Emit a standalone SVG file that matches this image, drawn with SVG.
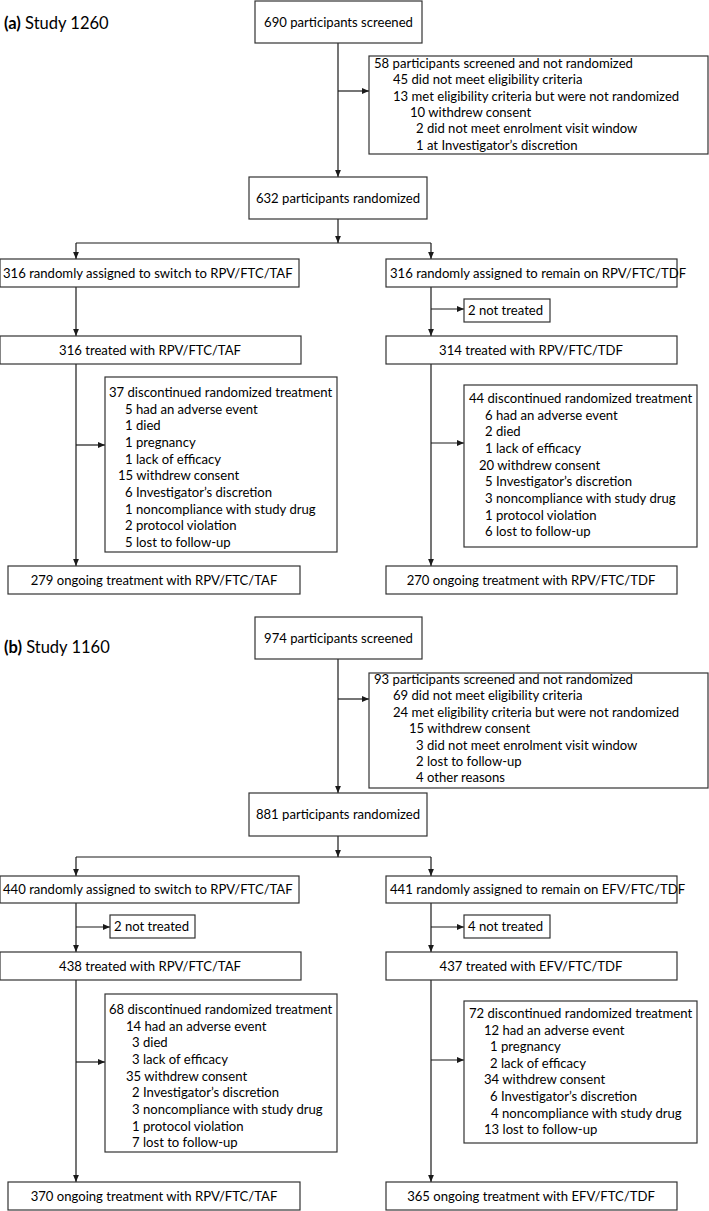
<svg xmlns="http://www.w3.org/2000/svg" width="709" height="1211" viewBox="0 0 709 1211">
<defs>
<marker id="ah" markerUnits="userSpaceOnUse" markerWidth="7" markerHeight="7" viewBox="0 0 7 7" refX="7" refY="3.5" orient="auto">
<path d="M0,0.6 L7,3.5 L0,6.4 Z" fill="#1a1a1a"/>
</marker>
<style>
rect{fill:#fff;stroke:#333;stroke-width:1.2}
text{font-family:Lato,"Open Sans","Liberation Sans",sans-serif;font-size:13.1px;fill:#000}
.c{text-anchor:middle}
.t{font-size:16.5px}
.b{font-weight:bold}
#connectors path{fill:none;stroke:#1a1a1a;stroke-width:1.2}
.a{marker-end:url(#ah)}
</style>
</defs>
<rect x="0" y="0" width="709" height="1211" style="fill:#fff;stroke:none"/>
<g id="connectors">
<path class="a" d="M338,43 V177"/>
<path class="a" d="M338,91 H369"/>
<path class="a" d="M338,219 V243"/>
<path d="M76,243 H431"/>
<path class="a" d="M76,243 V259"/>
<path class="a" d="M431,243 V259"/>
<path class="a" d="M76,287 V336"/>
<path class="a" d="M431,287 V336"/>
<path class="a" d="M431,309 H464"/>
<path class="a" d="M76,364 V566"/>
<path class="a" d="M76,445 H105"/>
<path class="a" d="M431,364 V566"/>
<path class="a" d="M431,443 H464"/>
<path class="a" d="M338,659 V793"/>
<path class="a" d="M338,699 H369"/>
<path class="a" d="M338,836 V857"/>
<path d="M76,857 H431"/>
<path class="a" d="M76,857 V876"/>
<path class="a" d="M431,857 V876"/>
<path class="a" d="M76,903 V952"/>
<path class="a" d="M76,927 H110"/>
<path class="a" d="M431,903 V952"/>
<path class="a" d="M431,927 H464"/>
<path class="a" d="M76,980 V1182"/>
<path class="a" d="M76,1062 H105"/>
<path class="a" d="M431,980 V1182"/>
<path class="a" d="M431,1060 H464"/>
</g>
<g id="title-a"><text x="4" y="29" class="t"><tspan class="b">(a)</tspan> Study 1260</text></g>
<g id="a-screened"><rect x="255" y="1" width="167" height="42"/><text x="338.5" y="27" class="c">690 participants screened</text></g>
<g id="a-notrand"><rect x="369" y="56" width="339" height="98"/>
<text x="374" y="68">58 participants screened and not randomized</text>
<text x="393" y="84.3">45 did not meet eligibility criteria</text>
<text x="393" y="100.6">13 met eligibility criteria but were not randomized</text>
<text x="410" y="117">10 withdrew consent</text>
<text x="416" y="133.2">2 did not meet enrolment visit window</text>
<text x="416" y="149.5">1 at Investigator’s discretion</text>
</g>
<g id="a-rand"><rect x="249" y="177" width="178" height="42"/><text x="338" y="203" class="c">632 participants randomized</text></g>
<g id="a-switch"><rect x="0" y="259" width="299" height="28"/><text x="3" y="278">316 randomly assigned to switch to RPV/FTC/TAF</text></g>
<g id="a-remain"><rect x="386" y="259" width="291" height="28"/><text x="390" y="278">316 randomly assigned to remain on RPV/FTC/TDF</text></g>
<g id="a-nottreated"><rect x="464" y="299" width="86" height="23"/><text x="468" y="315">2 not treated</text></g>
<g id="a-treatedL"><rect x="0" y="336" width="301" height="28"/><text x="150" y="355" class="c">316 treated with RPV/FTC/TAF</text></g>
<g id="a-treatedR"><rect x="386" y="336" width="291" height="28"/><text x="531" y="355" class="c">314 treated with RPV/FTC/TDF</text></g>
<g id="a-discL"><rect x="105" y="377" width="232" height="175"/>
<text x="109" y="397">37 discontinued randomized treatment</text>
<text x="125" y="413.7">5 had an adverse event</text>
<text x="125" y="430.3">1 died</text>
<text x="125" y="447">1 pregnancy</text>
<text x="125" y="463.7">1 lack of efficacy</text>
<text x="118" y="480.3">15 withdrew consent</text>
<text x="125" y="497">6 Investigator’s discretion</text>
<text x="125" y="513.7">1 noncompliance with study drug</text>
<text x="125" y="530.3">2 protocol violation</text>
<text x="125" y="547">5 lost to follow-up</text>
</g>
<g id="a-discR"><rect x="464" y="385" width="233" height="162"/>
<text x="469" y="403">44 discontinued randomized treatment</text>
<text x="485" y="419.7">6 had an adverse event</text>
<text x="485" y="436.3">2 died</text>
<text x="485" y="453">1 lack of efficacy</text>
<text x="479" y="469.7">20 withdrew consent</text>
<text x="485" y="486.3">5 Investigator’s discretion</text>
<text x="485" y="503">3 noncompliance with study drug</text>
<text x="485" y="519.7">1 protocol violation</text>
<text x="485" y="536.3">6 lost to follow-up</text>
</g>
<g id="a-ongoingL"><rect x="8" y="566" width="292" height="28"/><text x="154" y="585" class="c">279 ongoing treatment with RPV/FTC/TAF</text></g>
<g id="a-ongoingR"><rect x="386" y="566" width="291" height="28"/><text x="531" y="585" class="c">270 ongoing treatment with RPV/FTC/TDF</text></g>

<g id="title-b"><text x="4" y="653" class="t"><tspan class="b">(b)</tspan> Study 1160</text></g>
<g id="b-screened"><rect x="255" y="617" width="167" height="42"/><text x="338.5" y="643" class="c">974 participants screened</text></g>
<g id="b-notrand"><rect x="369" y="673" width="339" height="115"/>
<text x="374" y="684">93 participants screened and not randomized</text>
<text x="393" y="700.4">69 did not meet eligibility criteria</text>
<text x="393" y="716.8">24 met eligibility criteria but were not randomized</text>
<text x="409" y="733.2">15 withdrew consent</text>
<text x="416" y="749.6">3 did not meet enrolment visit window</text>
<text x="416" y="766">2 lost to follow-up</text>
<text x="416" y="782.4">4 other reasons</text>
</g>
<g id="b-rand"><rect x="249" y="793" width="178" height="43"/><text x="338" y="819" class="c">881 participants randomized</text></g>
<g id="b-switch"><rect x="0" y="876" width="299" height="27"/><text x="3" y="894">440 randomly assigned to switch to RPV/FTC/TAF</text></g>
<g id="b-remain"><rect x="386" y="876" width="291" height="27"/><text x="390" y="894">441 randomly assigned to remain on EFV/FTC/TDF</text></g>
<g id="b-nottreatedL"><rect x="110" y="915" width="85" height="23"/><text x="114" y="931">2 not treated</text></g>
<g id="b-nottreatedR"><rect x="464" y="915" width="86" height="23"/><text x="468" y="931">4 not treated</text></g>
<g id="b-treatedL"><rect x="0" y="952" width="301" height="28"/><text x="150" y="971" class="c">438 treated with RPV/FTC/TAF</text></g>
<g id="b-treatedR"><rect x="386" y="952" width="291" height="28"/><text x="531" y="971" class="c">437 treated with EFV/FTC/TDF</text></g>
<g id="b-discL"><rect x="105" y="994" width="232" height="158"/>
<text x="109" y="1014">68 discontinued randomized treatment</text>
<text x="126" y="1030.7">14 had an adverse event</text>
<text x="132" y="1047.3">3 died</text>
<text x="132" y="1064">3 lack of efficacy</text>
<text x="126" y="1080.7">35 withdrew consent</text>
<text x="132" y="1097.3">2 Investigator’s discretion</text>
<text x="132" y="1114">3 noncompliance with study drug</text>
<text x="132" y="1130.7">1 protocol violation</text>
<text x="132" y="1147.3">7 lost to follow-up</text>
</g>
<g id="b-discR"><rect x="464" y="1001" width="233" height="142"/>
<text x="469" y="1018">72 discontinued randomized treatment</text>
<text x="484" y="1034.6">12 had an adverse event</text>
<text x="490" y="1051.2">1 pregnancy</text>
<text x="490" y="1067.8">2 lack of efficacy</text>
<text x="484" y="1084.4">34 withdrew consent</text>
<text x="490" y="1101">6 Investigator’s discretion</text>
<text x="491" y="1117.6">4 noncompliance with study drug</text>
<text x="484" y="1134.2">13 lost to follow-up</text>
</g>
<g id="b-ongoingL"><rect x="8" y="1182" width="292" height="28"/><text x="154" y="1201" class="c">370 ongoing treatment with RPV/FTC/TAF</text></g>
<g id="b-ongoingR"><rect x="386" y="1182" width="291" height="28"/><text x="531" y="1201" class="c">365 ongoing treatment with EFV/FTC/TDF</text></g>
</svg>
